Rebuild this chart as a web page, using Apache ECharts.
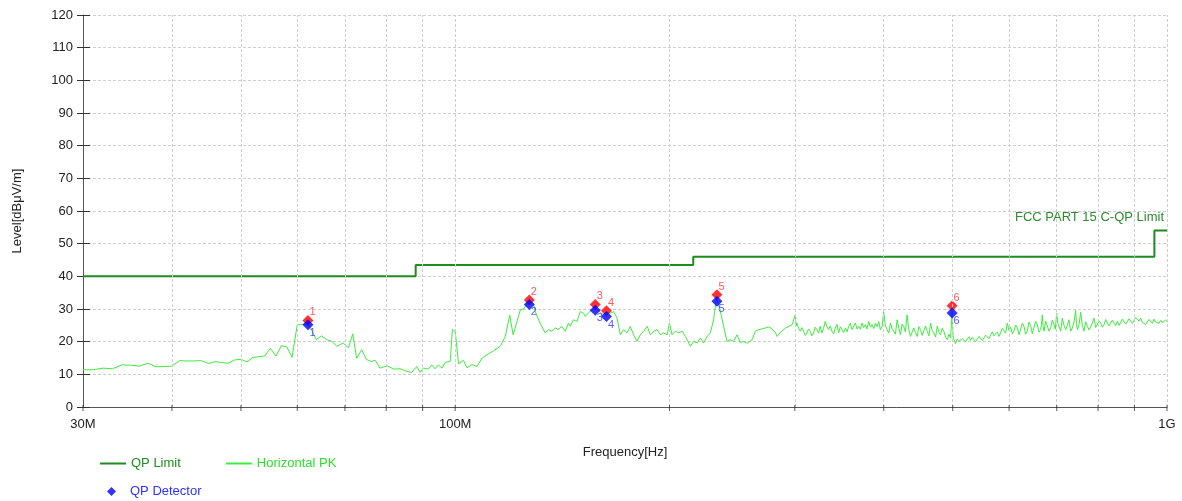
<!DOCTYPE html>
<html>
<head>
<meta charset="utf-8">
<script src="https://cdn.jsdelivr.net/npm/echarts@6/dist/echarts.min.js"></script>
<style>
  html, body { margin: 0; padding: 0; background: #fff; }
  #chart { width: 1182px; height: 501px; }
</style>
</head>
<body>
<div id="chart"></div>
<script>
// Horizontal peak scan (frequency in MHz, level in dBuV/m)
const pkFreq = [
  30, 31, 32, 33, 34, 35, 36, 37, 38, 39,
  40, 41, 42, 43, 44, 45, 46, 47, 48, 49,
  50, 51, 52, 53, 54, 55, 56, 57, 58, 59,
  60, 61, 62, 62.8, 63.8, 64.9, 66.0, 67.1, 68.2, 69.6,
  70.8, 71.8, 72.7, 73.9, 75.1, 76.3, 77.2, 78.4, 80.2, 82.0,
  83.7, 85.5, 86.9, 88.3, 89.3, 90.2, 91.7, 92.7, 93.7, 94.7,
  95.8, 96.8, 98.4, 99.1, 100, 101.1, 102.7, 103.9, 105.6, 107.3,
  109.1, 110.8, 113.2, 115.7, 117.6, 119.3, 120.6, 123.5, 124.8, 126.1,
  127.1, 128.8, 129.5, 131.6, 133.8, 135.2, 136.7, 138.2, 139.7, 141.2,
  142.7, 144.3, 145.1, 146.6, 148.3, 149.9, 151.5, 152.3, 154.0, 155.7,
  157.3, 159.9, 161.7, 163.1, 165.2, 167.0, 168.8, 170.6, 172.4, 174.4,
  176.2, 178.1, 180.1, 182.0, 184.0, 186.1, 188.0, 190.1, 192.2, 194.2,
  196.3, 198.5, 200, 201.7, 203.9, 206.1, 208.4, 210.6, 214.0, 216.3,
  218.7, 221.0, 223.4, 225.9, 228.3, 230.7, 232.8, 235.8, 238.3, 240.9,
  243.5, 246.1, 248.9, 251.5, 254.3, 257.1, 261.3, 264.1, 267.0, 269.9,
  272.8, 275.8, 278.8, 281.9, 283.4, 286.5, 291.2, 294.3, 297.5, 299.0,
  300.4, 301.2, 302.1, 303.7, 305.3, 307.0, 308.6, 310.3, 312.0, 313.6,
  315.3, 317.0, 318.8, 320.5, 322.3, 324.0, 325.7, 327.5, 329.2, 331.0,
  332.8, 334.6, 336.4, 338.3, 340.1, 342.0, 343.8, 345.7, 347.6, 349.5,
  351.4, 353.3, 355.2, 357.1, 359.0, 361.0, 362.9, 364.9, 366.9, 368.9,
  370.9, 372.9, 374.9, 376.9, 378.9, 381.0, 383.1, 385.2, 387.3, 389.4,
  391.5, 393.6, 395.7, 397.9, 399.9, 402.1, 404.4, 406.6, 408.8, 411.0,
  413.1, 415.4, 417.7, 420.0, 422.2, 424.5, 426.7, 429.0, 431.4, 433.7,
  436.1, 438.4, 440.8, 443.2, 445.7, 448.1, 450.5, 453.0, 455.4, 457.9,
  460.4, 462.9, 465.4, 467.9, 470.4, 473.0, 475.6, 478.1, 480.7, 483.3,
  485.9, 488.6, 491.3, 493.9, 496.5, 498.0, 499.0, 500.5, 501.9, 504.6,
  507.4, 510.1, 512.9, 515.7, 518.5, 521.3, 524.1, 527.0, 529.8, 532.6,
  535.5, 538.5, 541.5, 544.4, 547.3, 550.2, 553.2, 556.2, 559.2, 562.2,
  565.3, 568.3, 571.3, 574.4, 577.6, 580.7, 583.8, 586.9, 590.1, 593.3,
  596.6, 599.8, 603.1, 606.3, 609.5, 612.9, 616.3, 619.6, 622.9, 626.2,
  629.6, 633.0, 636.4, 639.8, 643.3, 646.8, 650.3, 653.8, 657.4, 660.9,
  664.4, 666.3, 668.1, 669.9, 671.7, 675.4, 679.2, 682.8, 686.4, 690.1,
  693.9, 696.8, 699.8, 702.4, 705.1, 708.9, 712.8, 716.6, 720.5, 724.3,
  728.2, 732.2, 736.3, 740.2, 744.1, 746.2, 748.3, 752.3, 756.4, 760.4,
  764.5, 768.7, 773.0, 777.1, 781.2, 785.4, 789.7, 794.0, 798.3, 802.6,
  807.0, 811.3, 815.6, 820.1, 824.6, 829.0, 833.4, 837.9, 842.5, 847.1,
  851.7, 856.3, 860.9, 865.5, 870.1, 874.9, 879.8, 884.5, 889.2, 894.0,
  898.8, 903.7, 908.6, 913.5, 918.5, 923.4, 928.3, 933.4, 938.6, 943.6,
  948.6, 953.7, 958.9, 964.1, 969.4, 974.6, 979.9, 985.1, 990.4, 995.2,
  1000
];
const pkLevel = [
  11.4, 11.4, 11.9, 11.7, 12.9, 12.8, 12.5, 13.4, 12.3, 12.4,
  12.5, 14.2, 14.1, 14.1, 14.2, 13.3, 13.9, 13.6, 13.4, 14.4,
  14.6, 13.8, 15.2, 15.4, 15.6, 18.0, 15.6, 18.8, 18.4, 15.2,
  25.2, 25.2, 25.6, 23.7, 20.6, 21.8, 20.6, 20.1, 18.6, 19.6,
  18.1, 22.4, 14.9, 17.5, 14.5, 13.9, 14.3, 11.9, 12.6, 11.6,
  11.7, 10.9, 10.6, 12.4, 10.6, 11.9, 11.6, 12.9, 11.7, 12.9,
  11.9, 13.6, 14.0, 23.7, 23.2, 13.2, 14.3, 12.0, 13.0, 12.4,
  15.0, 16.0, 17.2, 18.6, 21.6, 28.1, 22.1, 29.8, 30.0, 31.6,
  32.5, 31.6, 29.3, 25.7, 22.7, 23.7, 23.2, 24.2, 23.7, 24.7,
  23.2, 25.7, 24.7, 26.7, 26.2, 29.2, 28.7, 27.7, 28.9, 29.7,
  30.5, 28.9, 28.2, 29.0, 28.7, 29.2, 27.2, 22.1, 23.7, 22.7,
  24.7, 22.1, 20.1, 22.1, 23.2, 24.7, 22.1, 23.2, 23.7, 22.1,
  22.7, 22.1, 25.7, 22.1, 23.2, 22.7, 23.2, 21.6, 18.6, 20.1,
  19.6, 21.1, 19.6, 21.6, 22.7, 26.7, 33.5, 29.2, 24.7, 20.1,
  20.6, 20.1, 22.1, 19.7, 20.1, 19.5, 20.6, 23.2, 23.7, 23.9,
  24.2, 24.5, 23.9, 22.7, 21.6, 22.9, 24.2, 24.7, 25.2, 25.7,
  28.2, 24.8, 25.7, 24.1, 23.2, 24.3, 23.2, 21.9, 22.7, 23.9,
  23.2, 21.8, 22.7, 24.4, 23.7, 22.6, 24.7, 22.7, 24.0, 26.2,
  24.6, 23.7, 24.8, 23.2, 22.4, 24.2, 25.3, 22.7, 24.6, 23.7,
  22.8, 24.2, 23.0, 24.7, 25.6, 23.7, 24.3, 25.7, 23.9, 24.7,
  23.8, 25.7, 24.3, 25.2, 23.9, 26.2, 24.4, 25.2, 24.0, 25.7,
  24.6, 26.2, 23.6, 24.7, 29.0, 24.9, 23.7, 22.6, 25.7, 24.0,
  23.2, 22.3, 26.7, 24.1, 22.1, 25.4, 24.7, 23.0, 28.2, 23.8,
  21.6, 22.9, 24.2, 22.8, 21.6, 24.6, 23.7, 21.9, 22.1, 24.8,
  23.2, 21.8, 25.7, 23.4, 22.7, 21.4, 24.7, 22.8, 22.1, 24.1,
  23.2, 21.4, 20.6, 22.3, 21.1, 20.5, 29.0, 21.8, 20.6, 19.4,
  20.8, 20.1, 19.6, 20.9, 20.6, 19.9, 20.8, 21.5, 20.4, 21.3,
  20.8, 20.0, 20.6, 21.6, 21.1, 20.3, 20.6, 22.0, 21.6, 20.9,
  22.1, 23.0, 21.8, 22.4, 22.9, 21.6, 22.7, 24.1, 23.7, 22.6,
  25.7, 23.4, 24.5, 22.4, 23.2, 25.1, 24.2, 22.1, 22.7, 25.6,
  24.7, 22.3, 23.2, 26.0, 24.9, 22.4, 22.7, 26.2, 25.2, 22.9,
  23.7, 25.4, 28.2, 24.6, 23.2, 26.3, 25.7, 23.2, 24.2, 26.6,
  25.2, 23.8, 28.7, 25.6, 24.7, 23.2, 27.2, 25.0, 23.7, 25.0,
  26.7, 23.2, 24.2, 26.0, 29.6, 25.3, 23.7, 25.2, 29.0, 25.0,
  23.2, 26.1, 24.7, 23.6, 24.2, 25.6, 27.2, 24.3, 24.7, 26.4,
  25.7, 24.4, 25.2, 26.8, 26.2, 24.8, 25.2, 26.6, 25.7, 24.9,
  26.2, 25.0, 25.2, 26.9, 26.7, 25.4, 25.7, 27.0, 26.5, 25.6,
  26.2, 27.4, 26.9, 26.3, 27.2, 25.9, 26.2, 25.3, 25.7, 26.8,
  26.2, 25.6, 26.9, 26.0, 26.2, 25.6, 26.5, 25.8, 26.2, 26.6,
  26.2
];

// FCC Part 15 class B quasi-peak limit steps
const limitFreq = [30, 88, 88, 216, 216, 960, 960, 1000];
const limitLevel = [40, 40, 43.5, 43.5, 46, 46, 54, 54];

// Final measurement points
const markerNo = ['1', '2', '3', '4', '5', '6'];
const markerFreq = [62.1, 127.1, 157.3, 163.1, 233.2, 499.0];
const peakLevel = [26.5, 32.75, 31.4, 29.5, 34.4, 31.0];
const qpLevel = [25.2, 31.4, 29.6, 27.7, 32.4, 28.8];

// Log-axis decade subdivisions and labelled ticks
const gridFreq = [40, 50, 60, 70, 80, 90, 100, 200, 300, 400, 500, 600, 700, 800, 900, 1000];
const tickFreq = [30, 40, 50, 60, 70, 80, 90, 100, 200, 300, 400, 500, 600, 700, 800, 900, 1000];
const freqLabels = { 30: '30M', 100: '100M', 1000: '1G' };

const FONT = 'Arial, "Liberation Sans", sans-serif';
const LIMIT_COLOR = '#1e8c1e';
const PK_COLOR = '#3cec3c';

const zip = (xs, ys) => xs.map((x, i) => [x, ys[i]]);

const chart = echarts.init(document.getElementById('chart'));
chart.setOption({
  animation: false,
  textStyle: { fontFamily: FONT },
  title: {
    text: 'FCC PART 15 C-QP Limit',
    right: 18,
    top: 211,
    padding: 0,
    textStyle: { fontSize: 13, fontWeight: 'normal', color: '#2e8b2e', fontFamily: FONT }
  },
  legend: [
    {
      left: 100, top: 457, padding: 0,
      itemWidth: 26, itemHeight: 2, itemGap: 45,
      selectedMode: false,
      textStyle: { fontSize: 13, fontFamily: FONT },
      data: [
        { name: 'QP Limit', icon: 'rect', textStyle: { color: LIMIT_COLOR } },
        { name: 'Horizontal PK', icon: 'rect', textStyle: { color: '#2ee02e' } }
      ]
    },
    {
      left: 107, top: 485, padding: 0,
      itemWidth: 9, itemHeight: 9,
      selectedMode: false,
      textStyle: { fontSize: 13, fontFamily: FONT },
      data: [{
        name: 'QP Detector', icon: 'diamond',
        textStyle: { color: '#3030ff', padding: [0, 0, 0, 9] }
      }]
    }
  ],
  grid: { left: 83, right: 15, top: 15, bottom: 94 },
  xAxis: {
    type: 'log',
    logBase: 10,
    min: 30,
    max: 1000,
    name: 'Frequency[Hz]',
    nameLocation: 'middle',
    nameGap: 39,
    nameTextStyle: { fontSize: 13, color: '#222' },
    axisLine: { lineStyle: { color: '#555', width: 1 } },
    axisTick: { show: false },
    splitLine: { show: false },
    axisLabel: {
      fontSize: 13, color: '#222', margin: 11,
      showMinLabel: true, showMaxLabel: true,
      formatter: v => freqLabels[Math.round(v)] || ''
    }
  },
  yAxis: [
    {
      type: 'value', min: 0, max: 120, interval: 10,
      name: 'Level[dBμV/m]',
      nameLocation: 'middle',
      nameGap: 59,
      nameTextStyle: { fontSize: 13, color: '#222' },
      axisLine: { show: true, lineStyle: { color: '#555' } },
      axisTick: { show: true, length: 6, lineStyle: { color: '#333' } },
      axisLabel: { fontSize: 13, color: '#222', margin: 10 },
      splitLine: { show: true, lineStyle: { color: '#cfcfcf', type: [3, 2] } }
    },
    {
      type: 'value', min: 0, max: 120, interval: 10,
      position: 'left',
      axisLine: { show: false },
      axisTick: { show: true, inside: true, length: 7, lineStyle: { color: '#333' } },
      axisLabel: { show: false },
      splitLine: { show: false }
    }
  ],
  series: [
    {
      // vertical grid lines at the decade subdivisions
      name: 'grid',
      type: 'line',
      data: [],
      z: 1,
      silent: true,
      markLine: {
        silent: true,
        symbol: 'none',
        label: { show: false },
        lineStyle: { color: '#cfcfcf', type: [3, 2], width: 1 },
        data: gridFreq.map(f => ({ xAxis: f }))
      }
    },
    {
      name: 'QP Limit',
      type: 'line',
      color: LIMIT_COLOR,
      data: zip(limitFreq, limitLevel),
      showSymbol: false,
      lineStyle: { width: 2, color: LIMIT_COLOR },
      z: 3
    },
    {
      name: 'Horizontal PK',
      type: 'line',
      color: PK_COLOR,
      data: zip(pkFreq, pkLevel),
      showSymbol: false,
      lineStyle: { width: 1, color: PK_COLOR },
      z: 3
    },
    {
      name: 'Peak',
      type: 'scatter',
      symbol: 'diamond',
      symbolSize: 11,
      itemStyle: { color: '#ff0000' },
      data: zip(markerFreq, peakLevel),
      label: {
        show: true, position: 'right', distance: 0, offset: [-4, -8],
        fontSize: 11, color: '#ff3030',
        formatter: p => markerNo[p.dataIndex]
      },
      z: 4
    },
    {
      name: 'QP Detector',
      type: 'scatter',
      symbol: 'diamond',
      symbolSize: 11,
      color: '#0000ff',
      itemStyle: { color: '#0000ff' },
      data: zip(markerFreq, qpLevel),
      label: {
        show: true, position: 'right', distance: 0, offset: [-4, 8],
        fontSize: 11, color: '#3030ff',
        formatter: p => markerNo[p.dataIndex]
      },
      z: 5
    },
    {
      // axis tick marks crossing the frequency axis
      name: 'ticks',
      type: 'scatter',
      symbol: 'rect',
      symbolSize: [1, 6],
      symbolOffset: [0, 1],
      itemStyle: { color: '#333' },
      data: tickFreq.map(f => [f, 0]),
      clip: false,
      silent: true,
      z: 6
    }
  ]
});
</script>
</body>
</html>
